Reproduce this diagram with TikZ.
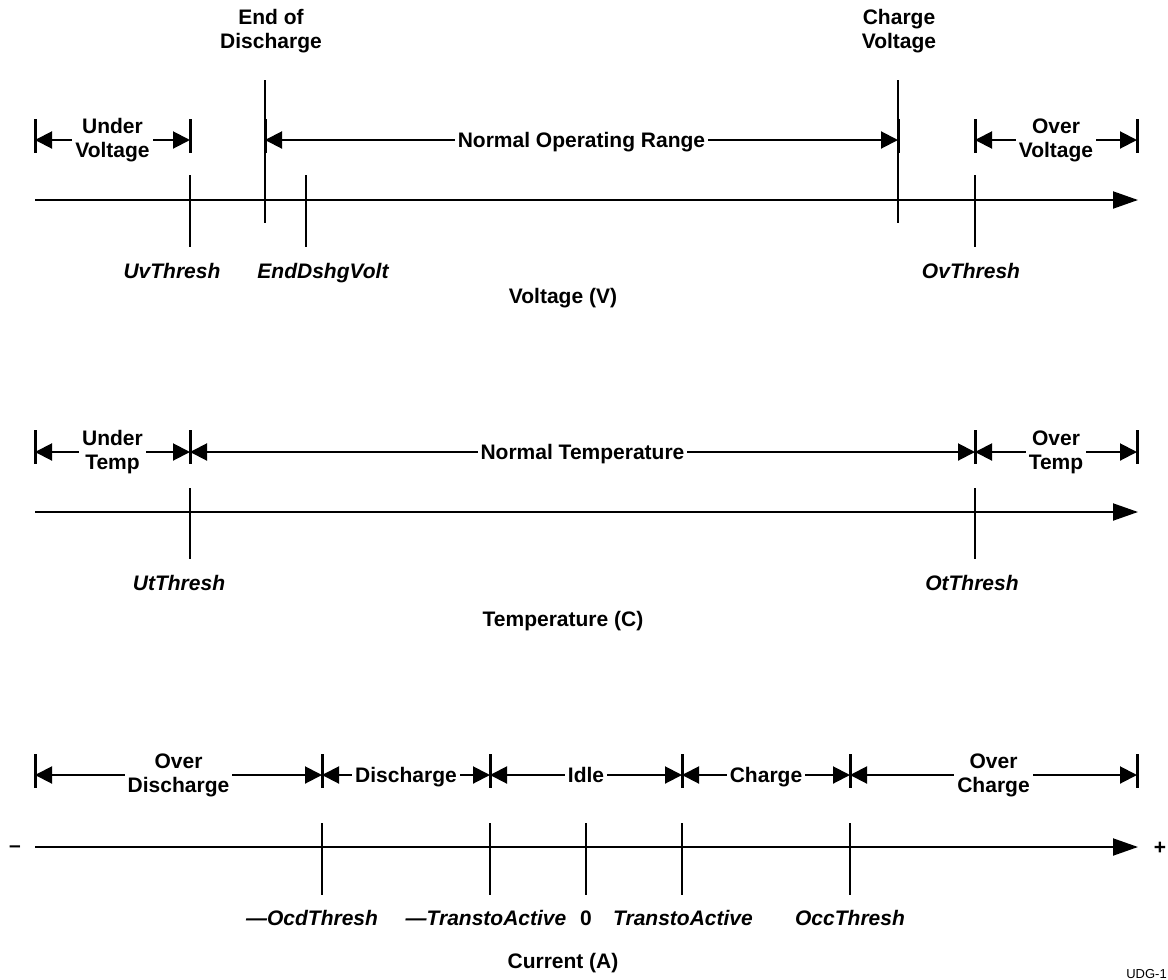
\documentclass[tikz,border=0pt]{standalone}
\usepackage{fontspec}
\setmainfont{Liberation Sans}
\usetikzlibrary{arrows.meta}
\begin{document}
\begin{tikzpicture}[x=1pt,y=-1pt,
  font=\fontsize{21}{24}\selectfont\bfseries,
  axis/.style={line width=2pt,-{Triangle[length=25pt,width=17pt]}},
  tick/.style={line width=1.4pt},
  bar/.style={line width=3pt},
  dim/.style={line width=2pt,{Triangle[length=17pt,width=17pt]}-{Triangle[length=17pt,width=17pt]}},
  lbl/.style={fill=white,align=center,inner xsep=3pt,inner ysep=0pt},
  one/.style={lbl,text height=15.5pt,text depth=0pt},
  th/.style={anchor=base,font=\fontsize{21}{24}\selectfont\bfseries\itshape},
  ttl/.style={align=center}]
\useasboundingbox (0,0) rectangle (1168,980);
\clip (0,0) rectangle (1168,980);

% ---------------- Voltage ----------------
\coordinate (va0) at (35,200); \coordinate (va1) at (1138,200);
\draw[axis] (va0) -- (va1);
\draw[tick] (190,175) coordinate (uv0) -- (190,247) coordinate (uv1);
\draw[tick] (306,175) coordinate (ed0) -- (306,247) coordinate (ed1);
\draw[tick] (975,175) coordinate (ov0) -- (975,247) coordinate (ov1);
\draw[tick] (265,80) coordinate (eod0) -- (265,223) coordinate (eod1);
\draw[tick] (898,80) coordinate (cv0) -- (898,223) coordinate (cv1);
\foreach \x in {35,190,265,898,975,1137} \draw[bar] (\x,119) -- (\x,153);
\coordinate (vd0) at (35,140); \coordinate (vd1) at (190,140);
\coordinate (vd2) at (265,140); \coordinate (vd3) at (898,140);
\coordinate (vd4) at (975,140); \coordinate (vd5) at (1137,140);
\draw[dim] (vd0) -- node[lbl] (uvl) {Under\\Voltage} (vd1);
\draw[dim] (vd2) -- node[one] (nor) {Normal Operating Range} (vd3);
\draw[dim] (vd4) -- node[lbl] (ovl) {Over\\Voltage} (vd5);
\node[ttl] (eodt) at (271,31) {End of\\Discharge};
\node[ttl] (cvt) at (899,31) {Charge\\Voltage};
\node[th] (uvth) at (172,278) {UvThresh};
\node[th] (edv) at (323,278) {EndDshgVolt};
\node[th] (ovth) at (971,278) {OvThresh};
\node[anchor=base] (vt) at (563,303) {Voltage (V)};

% ---------------- Temperature ----------------
\coordinate (ta0) at (35,512); \coordinate (ta1) at (1138,512);
\draw[axis] (ta0) -- (ta1);
\draw[tick] (190,488) -- (190,559);
\draw[tick] (975,488) -- (975,559);
\foreach \x in {35,190,975,1137} \draw[bar] (\x,430) -- (\x,464);
\coordinate (td0) at (35,452); \coordinate (td1) at (190,452);
\coordinate (td2) at (975,452); \coordinate (td3) at (1137,452);
\draw[dim] (td0) -- node[lbl] (utl) {Under\\Temp} (td1);
\draw[dim] (td1) -- node[one] (ntl) {Normal Temperature} (td2);
\draw[dim] (td2) -- node[lbl] (otl) {Over\\Temp} (td3);
\node[th] (utth) at (179,590) {UtThresh};
\node[th] (otth) at (972,590) {OtThresh};
\node[anchor=base] (tt) at (563,626) {Temperature (C)};

% ---------------- Current ----------------
\coordinate (ca0) at (35,847); \coordinate (ca1) at (1138,847);
\draw[axis] (ca0) -- (ca1);
\node (minus) at (15,849) {\textendash};
\node[inner sep=0pt] (plus) at (1160,848) {+};
\foreach \x in {322,490,586,682,850} \draw[tick] (\x,823) -- (\x,895);
\foreach \x in {35,322,490,682,850,1137} \draw[bar] (\x,754) -- (\x,788);
\coordinate (cd0) at (35,775); \coordinate (cd1) at (322,775);
\coordinate (cd2) at (490,775); \coordinate (cd3) at (682,775);
\coordinate (cd4) at (850,775); \coordinate (cd5) at (1137,775);
\draw[dim] (cd0) -- node[lbl] (odl) {Over\\Discharge} (cd1);
\draw[dim] (cd1) -- node[one] (dl) {Discharge} (cd2);
\draw[dim] (cd2) -- node[one] (il) {Idle} (cd3);
\draw[dim] (cd3) -- node[one] (cl) {Charge} (cd4);
\draw[dim] (cd4) -- node[lbl] (ocl) {Over\\Charge} (cd5);
\node[th] (ocd) at (312,925) {\textemdash OcdThresh};
\node[th] (nta) at (486,925) {\textemdash TranstoActive};
\node[anchor=base] (zero) at (586,925) {0};
\node[th] (pta) at (683,925) {TranstoActive};
\node[th] (occ) at (850,925) {OccThresh};
\node[anchor=base] (ct) at (563,968) {Current (A)};
\node[anchor=south east,font=\fontsize{13}{15}\selectfont,inner sep=1pt] (udg) at (1168,980) {UDG-1};
\end{tikzpicture}
\end{document}
